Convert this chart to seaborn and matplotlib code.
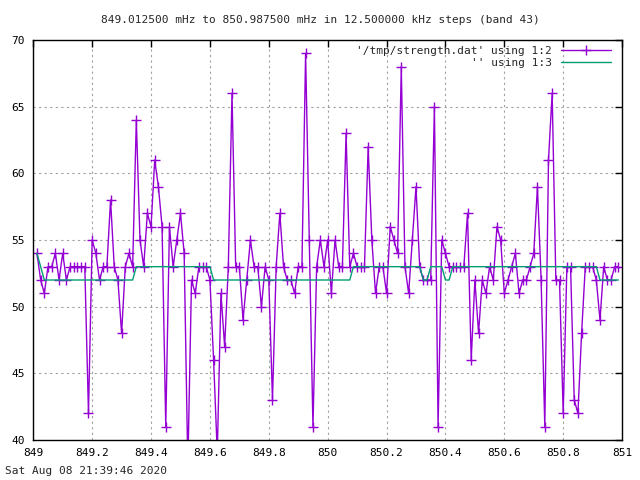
import matplotlib
matplotlib.use("Agg")
import matplotlib.pyplot as plt
import seaborn as sns
import numpy as np
import pandas as pd

# 12.5 kHz channel grid from the title
freq_start = 849.0125
freq_step = 0.0125

# column 2: measured strength
strength = [
    54, 52, 51, 53, 53, 54, 52, 54, 52, 53,
    53, 53, 53, 53, 42, 55, 54, 52, 53, 53,
    58, 53, 52, 48, 53, 54, 53, 64, 55, 53,
    57, 56, 61, 59, 56, 41, 56, 53, 55, 57,
    54, 38, 52, 51, 53, 53, 53, 52, 46, 39,
    51, 47, 53, 66, 53, 53, 49, 52, 55, 53,
    53, 50, 53, 52, 43, 53, 57, 53, 52, 52,
    51, 53, 53, 69, 55, 41, 53, 55, 53, 55,
    51, 55, 53, 53, 63, 53, 54, 53, 53, 53,
    62, 55, 51, 53, 53, 51, 56, 55, 54, 68,
    53, 51, 55, 59, 53, 52, 52, 52, 65, 41,
    55, 54, 53, 53, 53, 53, 53, 57, 46, 52,
    48, 52, 51, 53, 52, 56, 55, 51, 52, 53,
    54, 51, 52, 52, 53, 54, 59, 52, 41, 61,
    66, 52, 52, 42, 53, 53, 43, 42, 48, 53,
    53, 53, 52, 49, 53, 52, 52, 53, 53,
]

# column 3: baseline
baseline = [
    54, 53, 52, 52, 52, 52, 52, 52, 52, 52,
    52, 52, 52, 52, 52, 52, 52, 52, 52, 52,
    52, 52, 52, 52, 52, 52, 52, 53, 53, 53,
    53, 53, 53, 53, 53, 53, 53, 53, 53, 53,
    53, 53, 53, 53, 53, 53, 53, 53, 52, 52,
    52, 52, 52, 52, 52, 52, 52, 52, 52, 52,
    52, 52, 52, 52, 52, 52, 52, 52, 52, 52,
    52, 52, 52, 52, 52, 52, 52, 52, 52, 52,
    52, 52, 52, 52, 52, 52, 53, 53, 53, 53,
    53, 53, 53, 53, 53, 53, 53, 53, 53, 53,
    53, 53, 53, 53, 53, 52, 52, 53, 53, 53,
    53, 52, 52, 53, 53, 53, 53, 53, 53, 53,
    53, 53, 53, 53, 53, 53, 53, 53, 53, 53,
    53, 53, 53, 53, 53, 53, 53, 53, 53, 53,
    53, 53, 53, 53, 53, 53, 53, 53, 53, 53,
    53, 53, 53, 52, 52, 52, 52, 52, 52,
]

x_ticks = [849, 849.2, 849.4, 849.6, 849.8, 850, 850.2, 850.4, 850.6, 850.8, 851]
x_labels = ["849", "849.2", "849.4", "849.6", "849.8", "850",
            "850.2", "850.4", "850.6", "850.8", "851"]
y_ticks = [40, 45, 50, 55, 60, 65, 70]

title = "849.012500 mHz to 850.987500 mHz in 12.500000 kHz steps (band 43)"
stamp = "Sat Aug 08 21:39:46 2020"

sns.set_theme(style="white")
plt.rcParams['font.family'] = ['DejaVu Sans Mono']

df = pd.DataFrame({
    "freq": freq_start + freq_step * np.arange(len(strength)),
    "strength": strength,
    "baseline": baseline,
})

fig = plt.figure(figsize=(6.4, 4.8), dpi=100)
ax = fig.add_axes([0.052, 0.0833, 0.92, 0.8334])

sns.lineplot(data=df, x="freq", y="strength", ax=ax, color="#9400d3",
             lw=1, marker="+", markersize=6.5, markeredgewidth=1,
             markeredgecolor="#9400d3", label="'/tmp/strength.dat' using 1:2")
sns.lineplot(data=df, x="freq", y="baseline", ax=ax, color="#009e73",
             lw=1, label="'' using 1:3")

ax.set_xlim(849, 851)
ax.set_ylim(40, 70)
ax.set_xticks(x_ticks)
ax.set_xticklabels(x_labels)
ax.set_yticks(y_ticks)
ax.set_xlabel("")
ax.set_ylabel("")
ax.tick_params(direction="in", length=5, width=1, top=True, right=True,
               labelsize=8, colors="black", pad=6)
for s in ax.spines.values():
    s.set_color("black")
    s.set_linewidth(1)
ax.grid(True, color="#a0a0a0", lw=0.8, linestyle=(0, (2, 3)))

leg = ax.legend(loc="upper right", frameon=False, markerfirst=False,
                fontsize=8, handlelength=4.5, borderaxespad=0.1,
                labelspacing=0.25, bbox_to_anchor=(0.99, 1.0))
for t in leg.get_texts():
    t.set_ha("right")

fig.text(0.5, 0.958, title, ha="center", va="center", fontsize=8)
fig.text(0.008, 0.018, stamp, ha="left", va="center", fontsize=8)

fig.savefig("out.png", dpi=100)
